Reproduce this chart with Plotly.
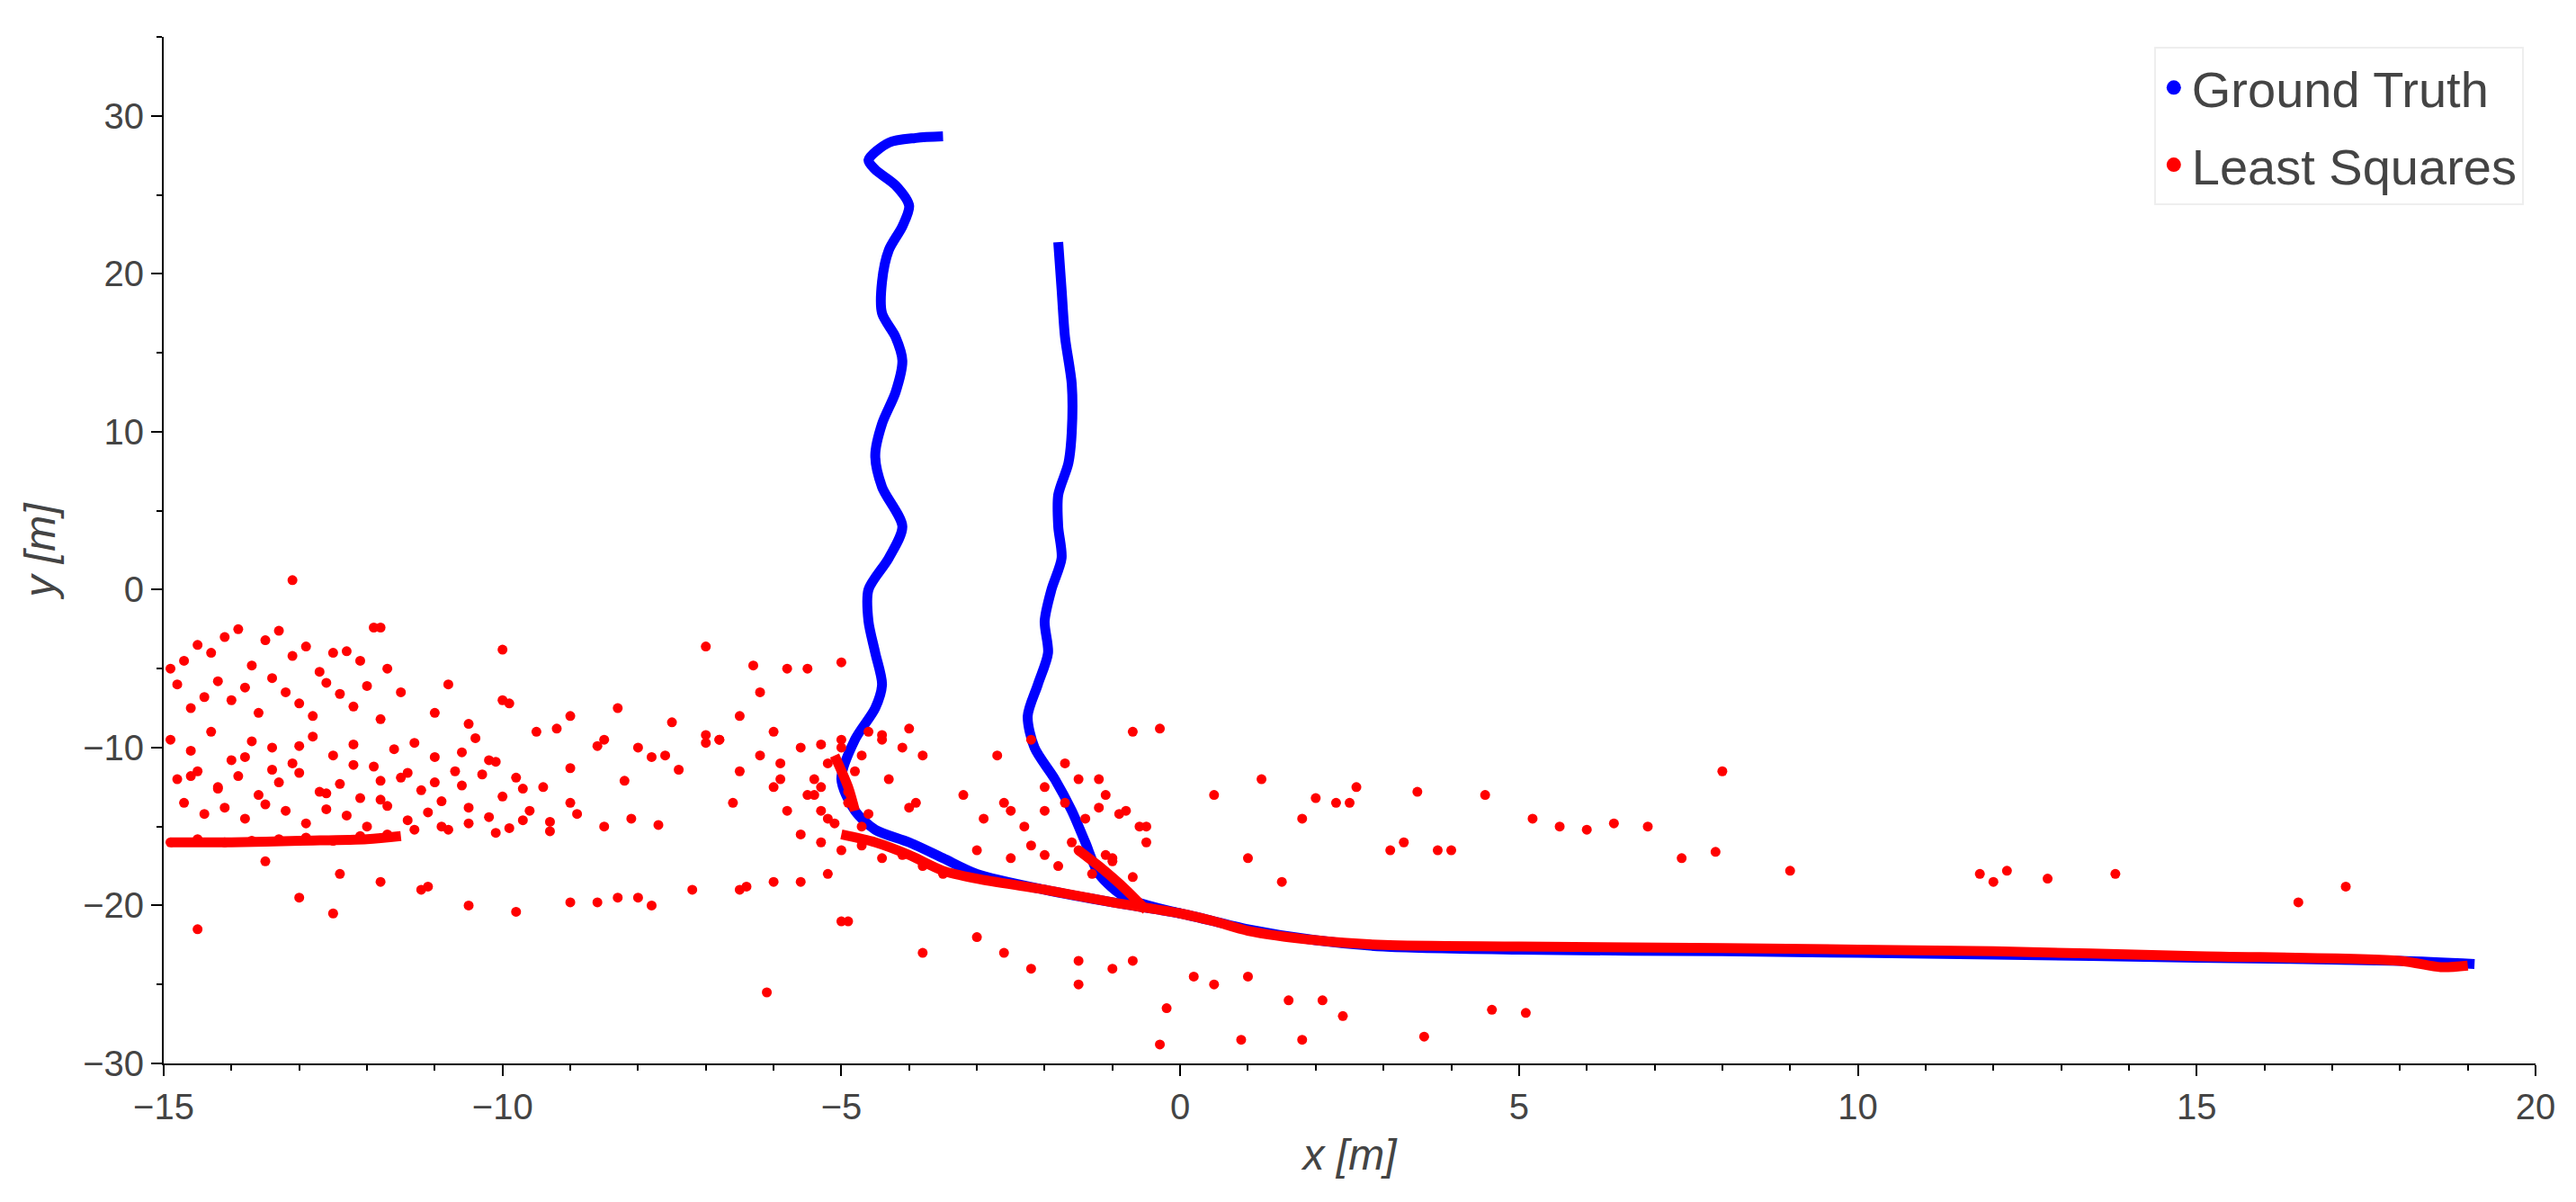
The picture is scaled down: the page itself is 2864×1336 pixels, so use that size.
import plotly.graph_objects as go

# Ground truth waypoints (two passes separated by None)
gt_x = [-3.5,-3.9,-4.3,-4.6,-4.5,-4.2,-4.0,-4.1,-4.3,-4.4,-4.4,-4.2,-4.1,-4.2,-4.4,-4.5,-4.4,-4.1,-4.3,-4.6,-4.6,-4.5,-4.4,-4.5,-4.8,-5.0,-4.8,-4.5,-4.0,-3.5,-3.0,-2.0,-1.0,0.0,1.0,2.0,3.0,5.0,8.0,12.0,15.0,18.0,19.1,
        None,
        -1.8,-1.75,-1.7,-1.6,-1.6,-1.65,-1.8,-1.8,-1.75,-1.9,-2.0,-1.95,-2.1,-2.25,-2.15,-1.85,-1.6,-1.4,-1.2,-0.8,0.0]
gt_y = [28.7,28.6,28.3,27.2,26.6,25.6,24.3,23.0,21.5,19.5,17.5,16.0,14.5,12.5,10.5,8.5,6.5,4.0,2.0,0.0,-2.0,-4.0,-6.0,-7.5,-9.5,-12.0,-14.0,-15.2,-16.0,-17.0,-18.0,-19.0,-19.8,-20.5,-21.5,-22.2,-22.6,-22.8,-22.9,-23.1,-23.3,-23.5,-23.7,
        None,
        22.0,19.0,16.0,13.0,10.0,8.0,6.0,4.0,2.0,0.0,-2.0,-4.0,-6.0,-8.0,-10.0,-12.0,-14.0,-16.0,-18.0,-19.5,-20.5]

# Least squares scattered estimates
ls_x = [-14.9,-14.7,-14.5,-14.3,-14.1,-13.9,-13.7,-13.5,-13.3,-13.1,-12.9,-12.7,-12.5,-12.3,-12.1,-11.9,-11.7,
        -14.8,-14.6,-14.4,-14.2,-14.0,-13.8,-13.6,-13.4,-13.2,-13.0,-12.8,-12.6,-12.4,-12.2,-12.0,-11.8,
        -14.9,-14.6,-14.3,-14.0,-13.7,-13.4,-13.1,-12.8,-12.5,-12.2,-11.9,-11.6,-11.3,-11.0,-10.7,-10.4,-10.1,
        -14.8,-14.5,-14.2,-13.9,-13.6,-13.3,-13.0,-12.7,-12.4,-12.1,-11.8,-11.5,-11.2,-10.9,-10.6,-10.3,-10.0,-9.7,
        -14.7,-14.4,-14.1,-13.8,-13.5,-13.2,-12.9,-12.6,-12.3,-12.0,-11.7,-11.4,-11.1,-10.8,-10.5,-10.2,-9.9,-9.6,-9.3,-9.0,
        -14.9,-14.5,-14.1,-13.7,-13.3,-12.9,-12.5,-12.1,-11.7,-11.3,-10.9,-10.5,-10.1,-9.7,-9.3,-8.9,-8.5,-8.1,-7.7,
        -14.6,-14.2,-13.8,-13.4,-13.0,-12.6,-12.2,-11.8,-11.4,-11.0,-10.6,-10.2,-9.8,-9.4,-9.0,-8.6,-8.2,-7.8,-7.4,-7.0,
        -11.5,-11.0,-10.5,-10.0,-9.5,-9.0,-8.5,-8.0,-7.5,-7.0,-6.5,-6.0,-10.8,-9.9,-9.2,-8.3,-7.6,-6.8,-6.2,-5.8,
        -14.5,-13.0,-12.5,-11.2,-10.5,-9.0,-8.3,-7.8,-6.5,-6.0,-5.2,-5.0,-13.1,-11.8,-10.0,-7.0,-6.3,-5.5,-5.0,
        -6.8,-6.5,-6.2,-5.9,-5.6,-5.3,-5.0,-4.7,-4.4,-4.1,-3.8,-6.6,-6.0,-5.4,-4.9,-4.3,-3.9,-5.8,-5.2,-4.6,-4.0,
        -5.5,-5.3,-5.1,-4.9,-4.7,-5.4,-5.2,-5.0,-4.8,-4.6,-5.6,-5.3,-5.0,-4.7,-4.4,-4.1,-3.8,-3.5,
        -3.2,-2.9,-2.6,-2.3,-2.0,-1.7,-1.4,-1.1,-0.8,-0.5,-3.0,-2.5,-2.0,-1.5,-1.0,-0.5,-2.7,-2.2,-1.7,-1.2,-0.7,-0.3,
        -2.5,-2.0,-1.5,-1.2,-0.9,-0.6,-1.8,-1.3,-1.0,-0.7,-2.2,-1.6,-1.1,
        0.5,1.2,1.8,2.3,2.6,3.1,3.5,4.0,4.5,5.2,5.6,6.0,6.4,6.9,7.4,7.9,8.0,9.0,11.8,12.0,12.2,12.8,13.8,16.5,17.2,1.0,1.5,2.0,2.5,3.3,3.8,
        -3.0,-2.6,-2.2,-1.5,-1.5,-1.0,-0.7,-0.2,0.2,0.5,1.0,1.6,1.8,2.1,2.4,3.6,4.6,5.1,-3.8,-4.9,-6.1,-0.3,0.9,
        -11.1,-11.8,-12.4,-13.5,-9.8,-8.6,-8.0,-7.2,-6.4,-5.6,-5.9,-5.3,-4.4,-4.0]
ls_y = [-5.0,-4.5,-3.5,-4.0,-3.0,-2.5,-4.8,-3.2,-2.6,-4.2,-3.6,-5.2,-4.0,-3.9,-4.5,-2.4,-5.0,
        -6.0,-7.5,-6.8,-5.8,-7.0,-6.2,-7.8,-5.6,-6.5,-7.2,-8.0,-5.9,-6.6,-7.4,-6.1,-8.2,
        -9.5,-10.2,-9.0,-10.8,-9.6,-10.0,-11.0,-9.3,-10.5,-9.8,-11.2,-10.1,-9.7,-10.6,-11.5,-9.4,-10.9,
        -12.0,-11.5,-12.5,-11.8,-13.0,-12.2,-11.6,-12.8,-12.3,-13.2,-12.1,-11.9,-12.7,-13.4,-12.4,-11.7,-13.1,-12.6,
        -13.5,-14.2,-13.8,-14.5,-13.6,-14.0,-14.8,-13.9,-14.3,-15.0,-13.7,-14.6,-14.1,-15.2,-13.8,-14.4,-15.1,-14.0,-14.7,-13.5,
        -16.0,-15.8,-16.0,-15.9,-15.8,-15.7,-15.9,-15.6,-15.5,-15.2,-15.0,-14.8,-15.4,-14.6,-15.3,-14.2,-15.0,-14.5,-14.9,
        -11.8,-12.6,-10.6,-11.4,-9.9,-12.9,-11.1,-13.3,-11.6,-12.2,-10.3,-10.8,-11.9,-12.5,-11.3,-9.9,-12.1,-10.6,-11.4,-9.7,
        -6.5,-7.8,-8.5,-7.0,-9.0,-8.0,-9.5,-10.0,-8.4,-9.2,-8.0,-9.0,-6.0,-7.2,-8.8,-7.5,-10.5,-9.5,-6.5,-5.0,
        -21.5,-19.5,-20.5,-19.0,-20.0,-19.8,-19.5,-20.0,-19.0,-18.5,-18.0,-21.0,0.6,-2.4,-3.8,-3.6,-4.8,-5.0,-4.6,
        -9.5,-11.5,-10.5,-12.0,-10.0,-12.5,-9.5,-10.5,-9.5,-10.0,-10.5,-13.5,-12.5,-13.0,-12.8,-12.0,-13.5,-14.0,-14.5,-14.2,-13.8,
        -13.0,-14.0,-14.8,-13.5,-15.0,-12.0,-11.0,-10.0,-11.5,-9.0,-15.5,-16.0,-16.5,-16.2,-17.0,-16.8,-17.5,-18.0,
        -13.0,-14.5,-13.5,-15.0,-14.0,-13.5,-14.5,-13.0,-14.0,-15.0,-16.5,-17.0,-16.8,-16.5,-17.0,-16.0,-10.5,-9.5,-11.0,-12.0,-9.0,-8.8,
        -14.0,-12.5,-12.0,-13.8,-14.2,-15.0,-17.5,-18.0,-17.2,-18.2,-16.2,-16.0,-16.8,
        -13.0,-12.0,-14.5,-13.5,-12.5,-16.5,-12.8,-16.5,-13.0,-14.5,-15.0,-15.2,-14.8,-15.0,-17.0,-16.6,-11.5,-17.8,-18.0,-18.5,-17.8,-18.3,-18.0,-19.8,-18.8,-17.0,-18.5,-13.2,-13.5,-16.0,-16.5,
        -22.0,-23.0,-24.0,-23.5,-25.0,-24.0,-23.5,-26.5,-24.5,-25.0,-24.5,-26.0,-28.5,-26.0,-27.0,-28.3,-26.6,-26.8,-23.0,-21.0,-25.5,-28.8,-28.5,
        -18.8,-18.5,-18.0,-17.2,-20.4,-19.8,-19.5,-19.0,-18.8,-18.5,-11.0,-9.8,-9.2,-8.8]

# Dense least-squares band along the road
band_x = [-14.9,-14.0,-13.0,-12.0,-11.5,None,-5.0,-4.5,-4.0,-3.5,-3.0,-2.0,-1.0,0.0,0.5,1.0,2.0,3.0,5.0,8.0,12.0,15.0,18.0,18.6,19.0,
          None,-5.1,-4.9,-4.8,None,-1.5,-1.2,-0.8,-0.5]
band_y = [-16.0,-16.0,-15.9,-15.8,-15.6,None,-15.5,-16.0,-16.8,-17.8,-18.3,-19.0,-19.8,-20.5,-21.0,-21.6,-22.2,-22.5,-22.6,-22.7,-22.9,-23.2,-23.5,-23.9,-23.8,
          None,-10.5,-12.5,-14.0,None,-16.5,-17.5,-19.0,-20.3]

fig = go.Figure()
fig.add_trace(go.Scatter(x=gt_x, y=gt_y, mode="lines", name="Ground Truth",
                         line=dict(color="blue", width=11, shape="spline", smoothing=0.8),
                         showlegend=False, legendgroup="gt"))
fig.add_trace(go.Scatter(x=[None], y=[None], mode="markers", name="Ground Truth",
                         marker=dict(color="blue", size=18), legendgroup="gt"))
fig.add_trace(go.Scatter(x=band_x, y=band_y, mode="lines",
                         line=dict(color="red", width=11, shape="spline", smoothing=0.8),
                         showlegend=False, legendgroup="ls"))
fig.add_trace(go.Scatter(x=[None], y=[None], mode="markers", name="Least Squares",
                         marker=dict(color="red", size=18), legendgroup="ls"))
fig.add_trace(go.Scatter(x=ls_x, y=ls_y, mode="markers", name="Least Squares",
                         marker=dict(color="red", size=11), legendgroup="ls", showlegend=False))

axis_common = dict(showgrid=False, zeroline=False, showline=True, linecolor="black", linewidth=2,
                   ticks="outside", ticklen=12, tickwidth=2, tickcolor="black",
                   tickfont=dict(size=40, color="#444"), mirror=False,
                   minor=dict(ticks="outside", ticklen=6, tickcolor="black", nticks=5))
fig.update_xaxes(range=[-15, 20], dtick=5, title=dict(text="<i>x [m]</i>", font=dict(size=48, color="#444")), **axis_common)
fig.update_yaxes(range=[-30, 35], tickvals=[-30,-20,-10,0,10,20,30],
                 title=dict(text="<i>y [m]</i>", font=dict(size=48, color="#444")), **axis_common)
fig.update_layout(plot_bgcolor="white", paper_bgcolor="white",
                  font=dict(family="Arial, Liberation Sans, sans-serif"),
                  margin=dict(l=174, r=37, t=33, b=146),
                  legend=dict(x=0.995, y=0.99, xanchor="right", yanchor="top",
                              font=dict(size=56, color="#444"), bgcolor="white",
                              bordercolor="#eee", borderwidth=2))
fig.write_html("out.html")
